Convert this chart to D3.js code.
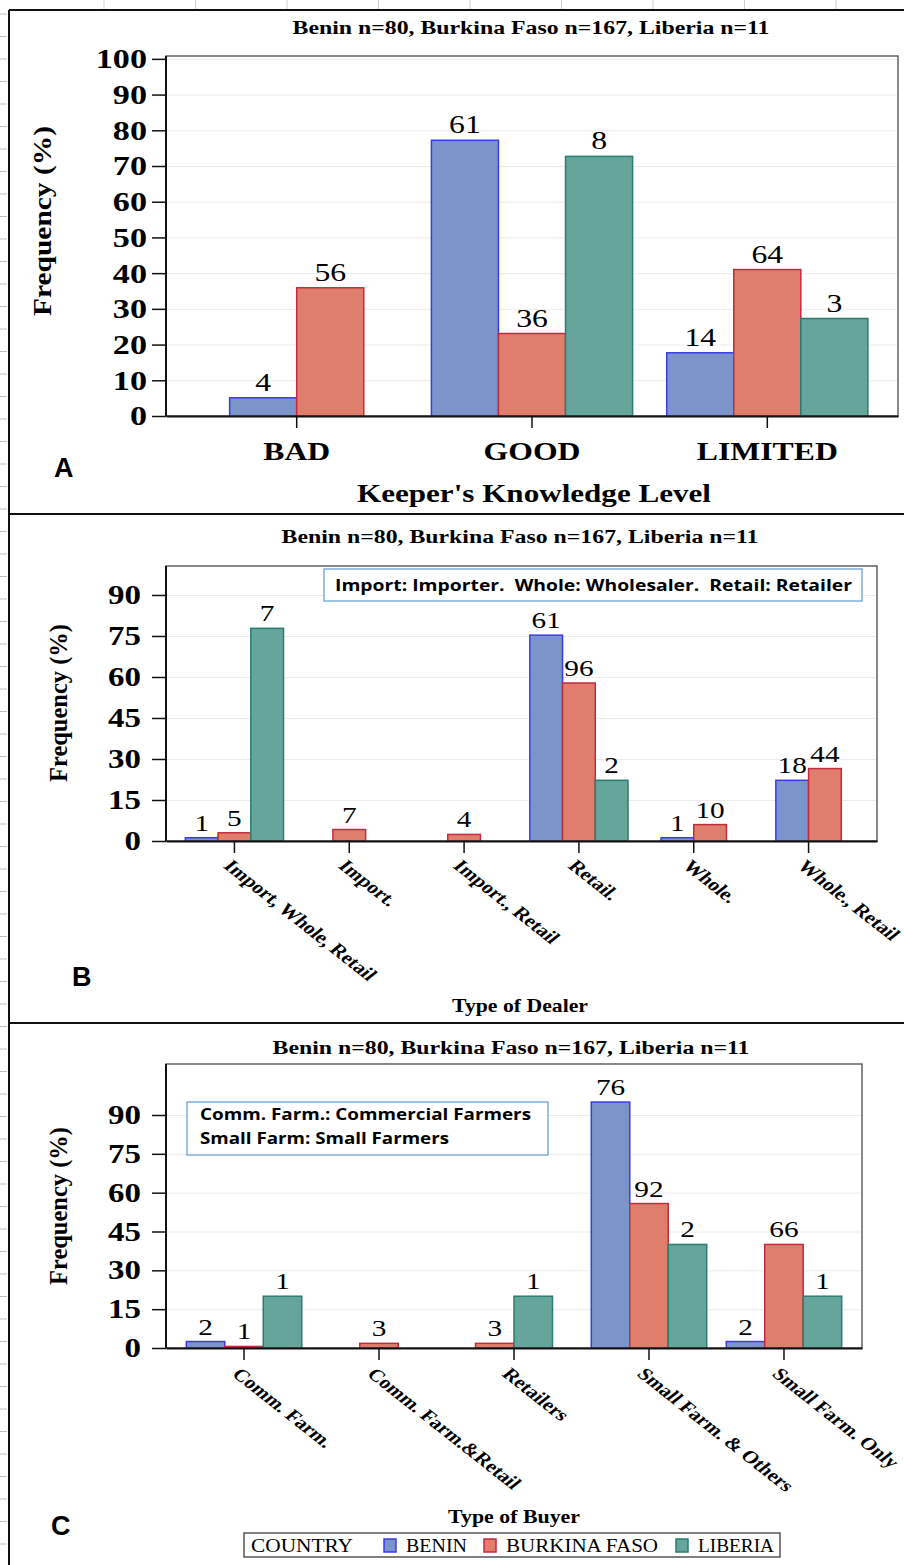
<!DOCTYPE html>
<html>
<head>
<meta charset="utf-8">
<script src="https://cdn.jsdelivr.net/npm/d3@7"></script>
<style>
  body { margin: 0; background: #fff; }
  svg { display: block; }
  text { font-family: "Liberation Serif", "Times New Roman", serif; fill: #000; }
</style>
</head>
<body>
<svg id="fig" width="904" height="1565"></svg>
<script>
// ---- data ----
const countries = ["BENIN", "BURKINA FASO", "LIBERIA"];
const fills = ["#7b95cb", "#e07e6e", "#65a59c"];
const strokes = ["#3b3be6", "#c42a3e", "#2a7d70"];

// A: keeper's knowledge level (% of country, count label)
const knowCats = ["BAD", "GOOD", "LIMITED"];
const knowBenin = [5.1, 77.2, 17.7];
const knowBurkina = [35.9, 23.1, 41.0];
const knowLiberia = [null, 72.7, 27.3];
const knowBeninN = [4, 61, 14];
const knowBurkinaN = [56, 36, 64];
const knowLiberiaN = [null, 8, 3];
const knowTicks = [0, 10, 20, 30, 40, 50, 60, 70, 80, 90, 100];

// B: type of dealer
const dealerCats = ["Import, Whole, Retail", "Import.", "Import., Retail", "Retail.", "Whole.", "Whole., Retail"];
const dealerBenin = [1.2, null, null, 75.3, 1.2, 22.2];
const dealerBurkina = [3.0, 4.2, 2.4, 57.8, 6.0, 26.5];
const dealerLiberia = [77.8, null, null, 22.2, null, null];
const dealerBeninN = [1, null, null, 61, 1, 18];
const dealerBurkinaN = [5, 7, 4, 96, 10, 44];
const dealerLiberiaN = [7, null, null, 2, null, null];
const dealerTicks = [0, 15, 30, 45, 60, 75, 90];

// C: type of buyer
const buyerCats = ["Comm. Farm.", "Comm. Farm.&Retail", "Retailers", "Small Farm. & Others", "Small Farm. Only"];
const buyerBenin = [2.5, null, null, 95.0, 2.5];
const buyerBurkina = [0.6, 1.8, 1.8, 55.8, 40.0];
const buyerLiberia = [20, null, 20, 40, 20];
const buyerBeninN = [2, null, null, 76, 2];
const buyerBurkinaN = [1, 3, 3, 92, 66];
const buyerLiberiaN = [1, null, 1, 2, 1];
const buyerTicks = [0, 15, 30, 45, 60, 75, 90];

const subtitle = "Benin n=80, Burkina Faso n=167, Liberia n=11";

// the source picture is stretched sideways, so text gets a matching x scale
const SX = 1.22;
const svg = d3.select("#fig");

// page furniture: ruler marks and panel borders
const furn = svg.append("g");
d3.range(14, 1565, 22.5).forEach(y => {
  furn.append("line").attr("x1", 0).attr("x2", 7).attr("y1", y).attr("y2", y)
    .attr("stroke", "#bdbdbd").attr("stroke-width", 1);
});
d3.range(104, 904, 91.5).forEach(x => {
  furn.append("line").attr("x1", x).attr("x2", x).attr("y1", 0).attr("y2", 9)
    .attr("stroke", "#cfcfcf").attr("stroke-width", 1);
});
furn.append("line").attr("x1", 9).attr("x2", 9).attr("y1", 10).attr("y2", 1565).attr("stroke", "#111").attr("stroke-width", 2);
[10, 514, 1023].forEach(y => {
  furn.append("line").attr("x1", 9).attr("x2", 904).attr("y1", y).attr("y2", y).attr("stroke", "#111").attr("stroke-width", 2);
});

// stretched text helper (len is the on-screen width)
function stxt(g, x, y, s, size, opt = {}) {
  const sx = opt.sx || SX;
  const t = g.append("text")
    .attr("transform", `translate(${x},${y}) scale(${sx},1)` + (opt.rot ? ` rotate(${opt.rot})` : ""))
    .attr("text-anchor", opt.anchor || "middle")
    .style("font-size", size + "px")
    .style("font-weight", opt.bold ? "bold" : "normal")
    .text(s);
  if (opt.family) t.style("font-family", opt.family);
  if (opt.len) t.attr("textLength", opt.rot ? opt.len : opt.len / sx).attr("lengthAdjust", "spacingAndGlyphs");
  return t;
}

function drawPanel(p) {
  const g = svg.append("g");
  const x = d3.scaleBand().domain(p.cats).range([p.left, p.right]).paddingInner(0).paddingOuter(p.pad);
  const y = d3.scaleLinear().domain([0, p.yMax]).range([p.bottom, p.top]);
  const bw = x.bandwidth() * 0.285;

  // title
  stxt(g, p.titleX, p.titleY, subtitle, 19, { bold: true, len: 477 });

  // gridlines
  g.append("g").attr("transform", `translate(${p.left},0)`)
    .call(d3.axisLeft(y).tickValues(p.ticks).tickSize(-(p.right - p.left)).tickFormat(""))
    .call(a => a.select(".domain").remove())
    .selectAll("line").attr("stroke", "#ebebeb").attr("stroke-width", 1);

  // bars
  const series = [p.benin, p.burkina, p.liberia];
  const counts = [p.beninN, p.burkinaN, p.liberiaN];
  p.cats.forEach((c, i) => {
    const present = [0, 1, 2].filter(k => series[k][i] !== null);
    const cx = x(c) + x.bandwidth() / 2;
    const start = cx - present.length * bw / 2;
    present.forEach((k, j) => {
      const v = series[k][i];
      g.append("rect")
        .attr("x", start + j * bw).attr("width", bw)
        .attr("y", y(v)).attr("height", y(0) - y(v))
        .attr("fill", fills[k]).attr("stroke", strokes[k]).attr("stroke-width", 1.5);
      stxt(g, start + j * bw + bw / 2, y(v) - 7, counts[k][i], p.valFont);
    });
  });

  // frame
  g.append("rect").attr("x", p.left).attr("y", p.top).attr("width", p.right - p.left).attr("height", p.bottom - p.top)
    .attr("fill", "none").attr("stroke", "#4a4a4a").attr("stroke-width", 1.3);

  // y axis
  g.append("g").attr("transform", `translate(${p.left},0)`)
    .call(d3.axisLeft(y).tickValues(p.ticks).tickSize(14).tickPadding(10))
    .call(a => a.select(".domain").attr("stroke", "#111").attr("stroke-width", 2)
      .attr("d", `M0,${p.bottom}V${p.top}`))
    .call(a => a.selectAll(".tick line").attr("stroke", "#111").attr("stroke-width", 1.5))
    .call(a => a.selectAll("text")
      .attr("x", -p.tickGap / SX).attr("transform", `scale(${SX},1)`)
      .style("font-size", p.tickFont + "px").style("font-weight", "bold")
      .style("font-family", "'Liberation Serif', serif"));

  // x axis
  const xa = g.append("g").attr("transform", `translate(0,${p.bottom})`)
    .call(d3.axisBottom(x).tickSize(12).tickSizeOuter(0))
    .call(a => a.select(".domain").attr("stroke", "#111").attr("stroke-width", 2))
    .call(a => a.selectAll(".tick line").attr("stroke", "#111").attr("stroke-width", 1.5));
  const xt = xa.selectAll("text")
    .style("font-family", "'Liberation Serif', serif").style("font-weight", "bold")
    .style("font-size", p.catFont + "px").attr("x", 0).attr("dy", 0);
  if (p.rotate) {
    xt.attr("y", 0).attr("text-anchor", "start")
      .attr("transform", `translate(${p.rotDx},${p.rotDy}) scale(1.27,1) rotate(45)`);
  } else {
    xt.attr("y", 0).attr("text-anchor", "middle")
      .attr("transform", `translate(0,${p.catDy}) scale(${SX},1)`);
  }

  // axis titles
  stxt(g, p.xTitleX, p.xTitleY, p.xTitle, p.xTitleFont, { bold: true, len: p.xTitleLen });
  stxt(g, p.yTitleX, p.yTitleY, "Frequency (%)", p.yTitleFont, { bold: true, sx: 1, rot: -90, len: p.yTitleLen });

  // panel letter
  stxt(g, p.letterX, p.letterY, p.letter, 27, { bold: true, sx: 1, anchor: "start", family: "'Liberation Sans', Arial, sans-serif" });
  return g;
}

drawPanel({
  cats: knowCats, benin: knowBenin, burkina: knowBurkina, liberia: knowLiberia,
  beninN: knowBeninN, burkinaN: knowBurkinaN, liberiaN: knowLiberiaN, ticks: knowTicks,
  left: 166, right: 898, top: 56, bottom: 416, yMax: 100.8, pad: 0.0555,
  titleX: 531, titleY: 34, valFont: 26, tickFont: 28, tickGap: 19, catFont: 26, catDy: 44,
  xTitle: "Keeper's Knowledge Level", xTitleX: 534, xTitleY: 502, xTitleFont: 25, xTitleLen: 354,
  yTitleX: 51, yTitleY: 221, yTitleFont: 26, yTitleLen: 190,
  letter: "A", letterX: 54, letterY: 477
});

const gB = drawPanel({
  cats: dealerCats, benin: dealerBenin, burkina: dealerBurkina, liberia: dealerLiberia,
  beninN: dealerBeninN, burkinaN: dealerBurkinaN, liberiaN: dealerLiberiaN, ticks: dealerTicks,
  left: 166, right: 877, top: 566, bottom: 841, yMax: 100.6, pad: 0.096,
  titleX: 520, titleY: 543, valFont: 24, tickFont: 27, tickGap: 25, catFont: 17.3, rotate: true, rotDx: -12, rotDy: 26,
  xTitle: "Type of Dealer", xTitleX: 520, xTitleY: 1012, xTitleFont: 18, xTitleLen: 136,
  yTitleX: 67, yTitleY: 703, yTitleFont: 25, yTitleLen: 158,
  letter: "B", letterX: 72, letterY: 986
});
// note box B
gB.append("rect").attr("x", 324).attr("y", 569).attr("width", 538).attr("height", 32)
  .attr("fill", "#fff").attr("stroke", "#5b9bd5").attr("stroke-width", 1.2);
stxt(gB, 335, 591, "Import: Importer.  Whole: Wholesaler.  Retail: Retailer", 16,
  { bold: true, sx: 1, anchor: "start", family: "'Open Sans', sans-serif", len: 517 })
  .style("white-space", "pre");

const gC = drawPanel({
  cats: buyerCats, benin: buyerBenin, burkina: buyerBurkina, liberia: buyerLiberia,
  beninN: buyerBeninN, burkinaN: buyerBurkinaN, liberiaN: buyerLiberiaN, ticks: buyerTicks,
  left: 166, right: 862, top: 1064, bottom: 1348, yMax: 109.7, pad: 0.078,
  titleX: 511, titleY: 1054, valFont: 24, tickFont: 27, tickGap: 25, catFont: 17.3, rotate: true, rotDx: -13, rotDy: 27,
  xTitle: "Type of Buyer", xTitleX: 514, xTitleY: 1523, xTitleFont: 18, xTitleLen: 132,
  yTitleX: 67, yTitleY: 1206, yTitleFont: 25, yTitleLen: 158,
  letter: "C", letterX: 51, letterY: 1535
});
// note box C
gC.append("rect").attr("x", 187).attr("y", 1102).attr("width", 361).attr("height", 53)
  .attr("fill", "#fff").attr("stroke", "#5b9bd5").attr("stroke-width", 1.2);
stxt(gC, 200, 1120, "Comm. Farm.: Commercial Farmers", 16,
  { bold: true, sx: 1, anchor: "start", family: "'Open Sans', sans-serif", len: 331 });
stxt(gC, 200, 1144, "Small Farm: Small Farmers", 16,
  { bold: true, sx: 1, anchor: "start", family: "'Open Sans', sans-serif", len: 249 });

// legend
const lg = svg.append("g");
lg.append("rect").attr("x", 244).attr("y", 1533).attr("width", 536).attr("height", 24)
  .attr("fill", "#fff").attr("stroke", "#555").attr("stroke-width", 1.5);
stxt(lg, 251, 1552, "COUNTRY", 18, { anchor: "start", len: 102 });
const legX = [384, 484, 676];
const legW = [61, 152, 76];
countries.forEach((c, k) => {
  lg.append("rect").attr("x", legX[k]).attr("y", 1539).attr("width", 12).attr("height", 13)
    .attr("fill", fills[k]).attr("stroke", strokes[k]).attr("stroke-width", 1.5);
  stxt(lg, legX[k] + 22, 1552, c, 18, { anchor: "start", len: legW[k] });
});
</script>
</body>
</html>
